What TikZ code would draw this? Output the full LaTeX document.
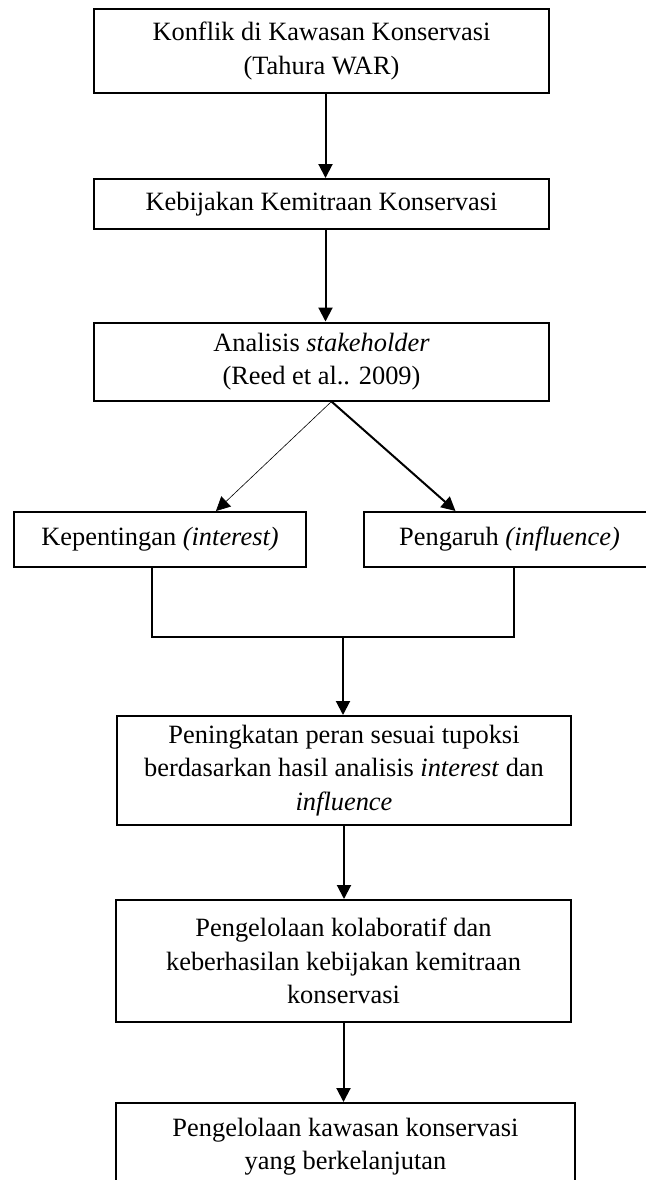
\documentclass[tikz,border=0pt]{standalone}
\usepackage{fontspec}
\setmainfont{Liberation Serif}
\usepackage{xcolor}
\usepackage{tikz}
\usetikzlibrary{arrows.meta}
\definecolor{ink}{HTML}{000000}
\definecolor{paper}{HTML}{FFFFFF}
\tikzset{
  box/.style={draw=ink, line width=1pt, inner sep=0pt, align=center, text=ink, font=\fontsize{13.2}{16.8}\selectfont},
  wide/.style={box, minimum width=227.5pt},
  half/.style={box, minimum width=146pt, minimum height=27.5pt},
  flow/.style={draw=ink, line width=1pt, -{Triangle[length=7pt,width=7pt]}},
  flowthin/.style={draw=ink, line width=0.3pt, -{Triangle[length=7pt,width=7pt]}},
  bracket/.style={draw=ink, line width=1pt},
}

\begin{document}
\begin{tikzpicture}[x=0.5pt, y=-0.5pt]
  \path[use as bounding box, clip] (0,0) rectangle (646,1180);
  \fill[paper] (0,0) rectangle (646,1180);
  % upper column
  \node[wide, minimum height=42pt] (konflik) at (321.5,51) {Konflik di Kawasan Konservasi\\(Tahura WAR)};
  \node[wide, minimum height=25pt] (kebijakan) at (321.5,204) {Kebijakan Kemitraan Konservasi};
  \node[wide, minimum height=39pt] (analisis) at (321.5,361.5) {Analisis \textit{stakeholder}\\(Reed et al.. 2009)};
  % two sides
  \node[half] (kepentingan) at (160,539.5) {Kepentingan \textit{(interest)}};
  \node[half] (pengaruh) at (509.5,539.5) {Pengaruh \textit{(influence)}};
  \coordinate (merge) at (343,637);
  % lower column
  \node[box, minimum width=227pt, minimum height=54.5pt] (peningkatan) at (344,770.5) {Peningkatan peran sesuai tupoksi\\berdasarkan hasil analisis \textit{interest} dan\\\textit{influence}};
  \node[box, minimum width=227.5pt, minimum height=61pt] (kolaboratif) at (343.5,961) {Pengelolaan kolaboratif dan\\keberhasilan kebijakan kemitraan\\konservasi};
  \node[box, minimum width=229.5pt, minimum height=43.5pt] (berkelanjutan) at (345.5,1146.5) {Pengelolaan kawasan konservasi\\yang berkelanjutan};
  % connectors
  \draw[flow] ([xshift=2pt]konflik.south) -- ([xshift=2pt]kebijakan.north);
  \draw[flow] ([xshift=2pt]kebijakan.south) -- ([xshift=2pt]analisis.north);
  \draw[flowthin] ([xshift=5pt]analisis.south) -- ([xshift=28pt]kepentingan.north);
  \draw[flow] ([xshift=5pt]analisis.south) -- ([xshift=-27pt]pengaruh.north);
  \draw[bracket] ([xshift=-4pt]kepentingan.south) |- (merge) -| ([xshift=2.25pt]pengaruh.south);
  \draw[flow] (merge) -- (merge |- peningkatan.north);
  \draw[flow] (peningkatan.south) -- (peningkatan.south |- kolaboratif.north);
  \draw[flow] (kolaboratif.south) -- (kolaboratif.south |- berkelanjutan.north);
\end{tikzpicture}
\end{document}
